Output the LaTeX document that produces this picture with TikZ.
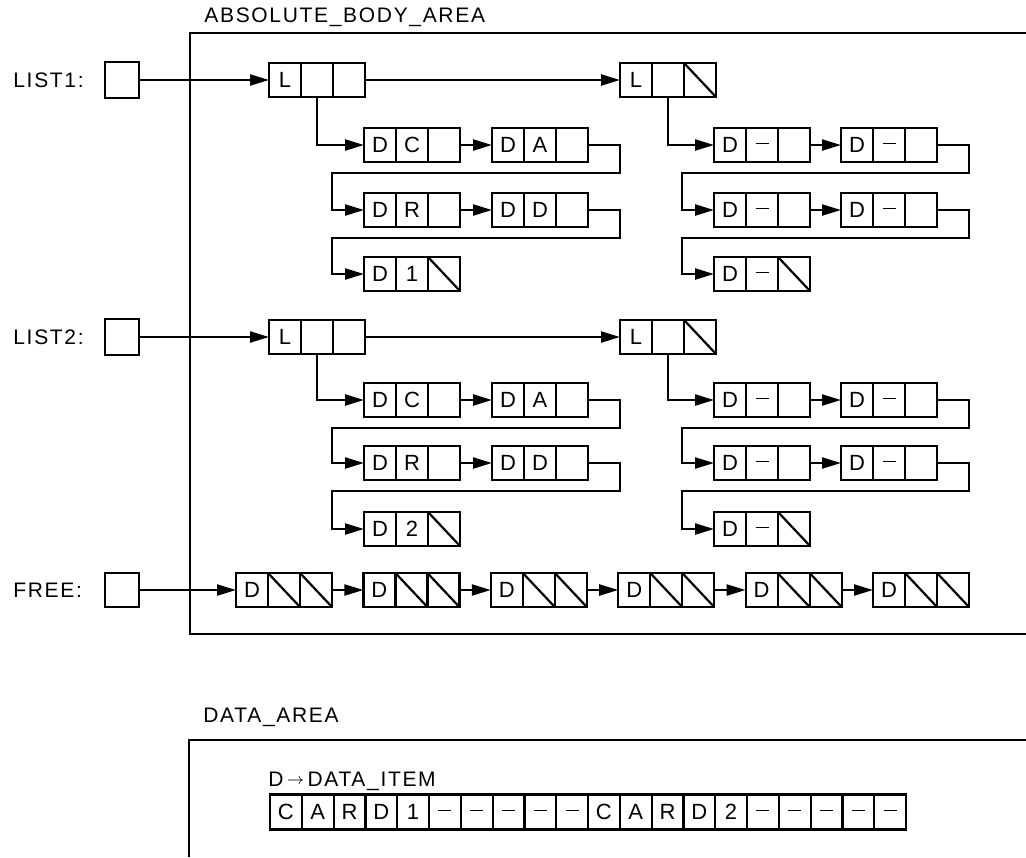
\documentclass[tikz,border=0pt]{standalone}
\usepackage{fontspec}
\setmainfont{Liberation Sans}[LetterSpace=8]
\usetikzlibrary{arrows.meta,calc,positioning}

% a record of three cells: name, place of its left side, text 1, text 2, style of cell 2, style of cell 3
\newcommand\rec[6]{%
  \node[cell,anchor=west](#1-a)at(#2){#3};
  \node[cell,#5,right=0pt of #1-a](#1-b){#4};
  \node[cell,#6,right=0pt of #1-b](#1-c){};}
% pointer that runs round to the start of the next row
\newcommand\wrap[2]{\draw[ptr](#1.east)--++(32,0)--++(0,28)-|($(#2.west)+(-32,0)$)--(#2.west);}
% the empty-value dash
\newcommand\nada{\rule[1.6pt]{6.5pt}{.7pt}}

\begin{document}
\begin{tikzpicture}[x=.5pt,y=-.5pt,
    cell/.style={draw,line width=1.1pt,minimum width=16pt,minimum height=17pt,inner sep=0pt,outer sep=0pt,font=\fontsize{11}{13}\selectfont},
    nil/.style={path picture={\draw[line width=1.1pt](path picture bounding box.north west)--(path picture bounding box.south east);}},
    ptr/.style={line width=1.1pt,-{Triangle[length=9.5pt,width=5.5pt]}},
    area/.style={line width=1.1pt},
    lbl/.style={anchor=west,inner sep=0pt,font=\fontsize{10.5}{12}\selectfont}]
  \useasboundingbox(0,0)rectangle(1026,857);
  % the two areas
  \draw[area](1026,33)--(190,33)--(190,634)--(1026,634);
  \node[lbl](bodyname)at(204,17){ABSOLUTE\_BODY\_AREA};
  \draw[area](1026,740)--(189,740)--(189,857);
  \node[lbl](dataname)at(203,717){DATA\_AREA};

  % LIST1 and LIST2
  \foreach\n/\ya/\yb/\yc/\yd in{1/80/145/210/274,2/337/400/463/529}{
    \node[lbl](name\n)at(13,\ya){LIST\n:};
    \node[cell,minimum width=17pt,minimum height=18pt](head\n)at(122,\ya){};
    \rec{top\n}{269,\ya}{L}{}{}{}
    \rec{next\n}{620,\ya}{L}{}{}{nil}
    \rec{ca\n}{364,\yb}{D}{C}{}{}
    \rec{cb\n}{492,\yb}{D}{A}{}{}
    \rec{cc\n}{364,\yc}{D}{R}{}{}
    \rec{cd\n}{492,\yc}{D}{D}{}{}
    \rec{ce\n}{364,\yd}{D}{\n}{}{nil}
    \rec{ea\n}{714,\yb}{D}{\nada}{}{}
    \rec{eb\n}{841,\yb}{D}{\nada}{}{}
    \rec{ec\n}{714,\yc}{D}{\nada}{}{}
    \rec{ed\n}{841,\yc}{D}{\nada}{}{}
    \rec{ee\n}{714,\yd}{D}{\nada}{}{nil}
    \draw[ptr](head\n.east)--(top\n-a.west);
    \draw[ptr](top\n-c.east)--(next\n-a.west);
    \draw[ptr](top\n-b.south)|-(ca\n-a.west);
    \draw[ptr](ca\n-c.east)--(cb\n-a.west);
    \wrap{cb\n-c}{cc\n-a}
    \draw[ptr](cc\n-c.east)--(cd\n-a.west);
    \wrap{cd\n-c}{ce\n-a}
    \draw[ptr](next\n-b.south)|-(ea\n-a.west);
    \draw[ptr](ea\n-c.east)--(eb\n-a.west);
    \wrap{eb\n-c}{ec\n-a}
    \draw[ptr](ec\n-c.east)--(ed\n-a.west);
    \wrap{ed\n-c}{ee\n-a}
  }

  % free list
  \node[lbl](freename)at(13,590){FREE:};
  \node[cell,minimum width=17pt,minimum height=17pt](freehead)at(122,590){};
  \foreach\i in{1,...,6}{\rec{free\i}{{236+127.4*(\i-1)},590}{D}{}{nil}{nil}}
  \draw[ptr](freehead.east)--(free1-a.west);
  \foreach\i[count=\j from 2]in{1,...,5}\draw[ptr](free\i-c.east)--(free\j-a.west);

  % data items
  \node[lbl](key)at(268,781){D\,\raisebox{1pt}{\footnotesize$\rightarrow$}\,DATA\_ITEM};
  \foreach\ch[count=\k]in{C,A,R,D,1,\nada,\nada,\nada,\nada,\nada,C,A,R,D,2,\nada,\nada,\nada,\nada,\nada}
    \node[cell,minimum width=15.9pt,minimum height=17.5pt,anchor=west](item\k)at({270+31.8*(\k-1)},812){\ch};
\end{tikzpicture}
\end{document}
